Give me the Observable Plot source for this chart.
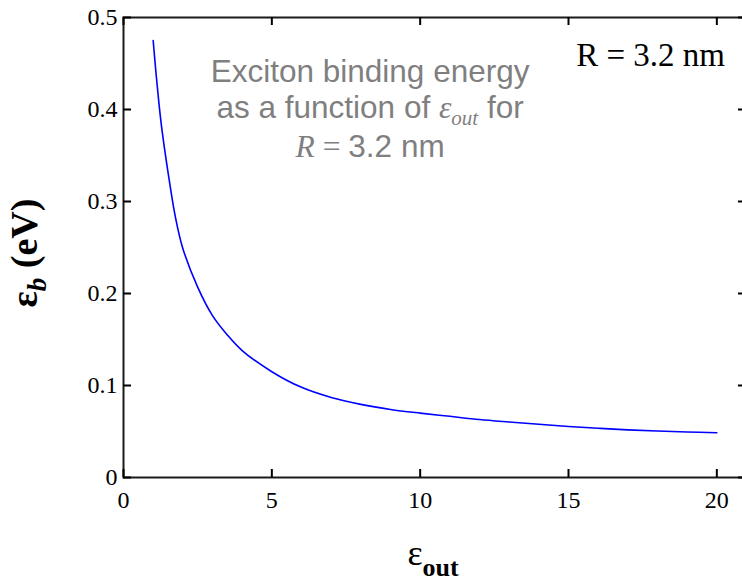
<!DOCTYPE html>
<html><head><meta charset="utf-8">
<script src="https://cdn.jsdelivr.net/npm/d3@7"></script>
<script src="https://cdn.jsdelivr.net/npm/@observablehq/plot@0.6"></script>
<style>
html,body{margin:0;padding:0;background:#fff;overflow:hidden;}
svg{max-width:none !important;}
</style></head><body><div id="chart"></div>
<script>
// Data
const epsOut = [1.0, 1.1, 1.2, 1.3, 1.5, 1.75, 2.0, 2.5, 3.0, 3.5, 4.0, 5, 6, 7, 8, 9, 10, 11, 12, 13, 14, 15, 16, 17, 18, 19, 20];
const bindingEnergy = [0.475, 0.438, 0.405, 0.377, 0.332, 0.283, 0.249, 0.207, 0.176, 0.155, 0.138, 0.115, 0.098, 0.087, 0.0795, 0.074, 0.070, 0.0665, 0.063, 0.0603, 0.0578, 0.0555, 0.0535, 0.0518, 0.0505, 0.0495, 0.0486];
const xTicks = [0, 5, 10, 15, 20];
const yTicks = [0, 0.1, 0.2, 0.3, 0.4, 0.5];
const xDomain = [0, 21];
const yDomain = [0, 0.5];
const radiusLabel = "R = 3.2 nm";
const noteLine1 = "Exciton binding energy";
const noteLine2a = "as a function of ";
const noteLine2b = " for";
const noteLine3 = "3.2 nm";

const data = epsOut.map((e, i) => ({e, v: bindingEnergy[i]}));
const W = 746, H = 584, mL = 123, mR = 0, mT = 17, mB = 107;
const plotW = W - mL - mR, plotH = H - mT - mB;
const tickPx = 8;
// tick length expressed in each scale's units
const tx = tickPx * (xDomain[1] - xDomain[0]) / plotW;
const ty = tickPx * (yDomain[1] - yDomain[0]) / plotH;
const tickMark = {stroke: "#000", strokeWidth: 2};

const chart = Plot.plot({
  width: W, height: H,
  marginLeft: mL, marginRight: mR, marginTop: mT, marginBottom: mB,
  style: {fontFamily: "'Liberation Serif', 'Times New Roman', serif", fontSize: "24px", color: "#000", background: "#fff", maxWidth: "none"},
  x: {domain: xDomain, label: null},
  y: {domain: yDomain, label: null},
  marks: [
    Plot.line(data, {x: "e", y: "v", stroke: "#0000ff", strokeWidth: 1.6, curve: "catmull-rom"}),
    Plot.frame({stroke: "#1a1a1a", strokeWidth: 2}),
    // inward tick marks on all four sides
    Plot.ruleX(xTicks, {x: d => d, y1: yDomain[0], y2: yDomain[0] + ty, ...tickMark}),
    Plot.ruleX(xTicks, {x: d => d, y1: yDomain[1] - ty, y2: yDomain[1], ...tickMark}),
    Plot.ruleY(yTicks, {y: d => d, x1: xDomain[0], x2: xDomain[0] + tx, ...tickMark}),
    Plot.ruleY(yTicks, {y: d => d, x1: xDomain[1] - tx, x2: xDomain[1], ...tickMark}),
    Plot.axisX(xTicks, {anchor: "bottom", tickSize: 0, tickPadding: 13, tickFormat: d => String(d), label: null}),
    Plot.axisY(yTicks, {anchor: "left", tickSize: 0, tickPadding: 6, tickFormat: d => String(d), label: null})
  ]
});
document.getElementById("chart").appendChild(chart);

const svg = d3.select(chart);
const sx = chart.scale("x"), sy = chart.scale("y");
const serif = "'Liberation Serif', 'Times New Roman', serif";
const sans = "'Liberation Sans', Arial, sans-serif";

// Y axis title
const yl = svg.append("text")
  .attr("transform", `translate(${sx.apply(-2.9)},${sy.apply(0.2435)}) rotate(-90)`)
  .attr("text-anchor", "middle")
  .style("font-family", serif).style("font-weight", "bold").style("font-size", "38px").attr("fill", "#000");
yl.append("tspan").text("ε");
yl.append("tspan").attr("dy", 9).style("font-style", "italic").style("font-size", "27px").text("b");
yl.append("tspan").attr("dy", -9).text(" (eV)");

// X axis title
const xl = svg.append("text")
  .attr("x", sx.apply(10.45)).attr("y", sy.apply(0) + 88)
  .attr("text-anchor", "middle")
  .style("font-family", serif).attr("fill", "#000");
xl.append("tspan").style("font-size", "36px").text("ε");
xl.append("tspan").attr("dy", 11).style("font-size", "26px").style("font-weight", "bold").text("out");

// R label top-right
svg.append("text")
  .attr("x", sx.apply(20.29)).attr("y", sy.apply(0.447))
  .attr("text-anchor", "end")
  .style("font-family", serif).style("font-size", "33px").attr("fill", "#000")
  .text(radiusLabel);

// Grey annotation
const ax = sx.apply(8.33), ay = sy.apply(0.4297);
const grey = "#7f7f7f";
const fs = "31.5px";
svg.append("text").attr("x", ax).attr("y", ay).attr("text-anchor", "middle")
  .style("font-family", sans).style("font-size", fs).attr("fill", grey).text(noteLine1);
const n2 = svg.append("text").attr("x", ax).attr("y", ay + 36.6).attr("text-anchor", "middle")
  .style("font-family", sans).style("font-size", fs).attr("fill", grey);
n2.append("tspan").text(noteLine2a);
n2.append("tspan").style("font-family", serif).style("font-style", "italic").text("ε");
n2.append("tspan").attr("dy", 7).style("font-family", serif).style("font-style", "italic").style("font-size", "21px").text("out");
n2.append("tspan").attr("dy", -7).text(noteLine2b);
const n3 = svg.append("text").attr("x", ax).attr("y", ay + 75).attr("text-anchor", "middle")
  .style("font-family", sans).style("font-size", fs).attr("fill", grey);
n3.append("tspan").style("font-family", serif).style("font-style", "italic").text("R");
n3.append("tspan").style("font-family", serif).text(" = ");
n3.append("tspan").text(noteLine3);
</script></body></html>
